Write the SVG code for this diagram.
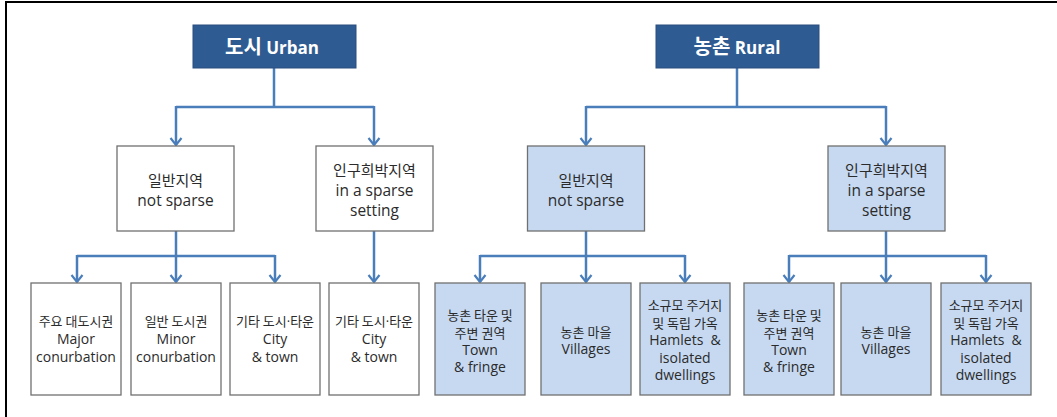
<svg xmlns="http://www.w3.org/2000/svg" width="1057" height="417" viewBox="0 0 1057 417">
<style>
.frame{stroke:#000;stroke-width:2;fill:none}
.title{fill:#2E5B92;stroke:#2a4f7e;stroke-width:1}
.tt{font-family:"Open Sans","Noto Sans CJK KR",sans-serif;font-weight:bold;fill:#fff;text-anchor:middle}
.box{fill:#fff;stroke:#707070;stroke-width:1.3}
.rbox{fill:#C6D9F1;stroke:#707070;stroke-width:1.3}
.t2{font-family:"Open Sans","Noto Sans CJK KR",sans-serif;font-size:15.5px;fill:#2b2b2b;text-anchor:middle}
.t3{font-family:"Open Sans","Noto Sans CJK KR",sans-serif;font-size:14px;fill:#2b2b2b;text-anchor:middle}
.k{font-family:"Noto Sans CJK KR",sans-serif;font-size:13px}
.k2{font-family:"Noto Sans CJK KR",sans-serif;font-size:15px}
.d{font-family:"Open Sans",sans-serif}
.c{stroke:#4A7EBB;stroke-width:2.5;fill:none}
.a{stroke:#4A7EBB;stroke-width:2.5;fill:none;marker-end:url(#arr)}
</style>
<defs>
<marker id="arr" markerUnits="userSpaceOnUse" viewBox="0 0 14 14" refX="12" refY="7" markerWidth="14" markerHeight="14" orient="auto">
<path d="M5,1.5 L12,7 L5,12.5" fill="none" stroke="#4A7EBB" stroke-width="2.2"/>
</marker>
</defs>
<rect width="1057" height="417" fill="#fff"/>
<path class="frame" d="M6,417 L6,2 L1057,2"/>

<g id="connectors">
<path class="c" d="M274,68 V107 M176,107 H374"/>
<path class="a" d="M176,106 V145"/>
<path class="a" d="M374,106 V145"/>
<path class="c" d="M737,68 V107 M586,107 H886"/>
<path class="a" d="M586,106 V145"/>
<path class="a" d="M886,106 V145"/>
<path class="c" d="M176,231 V256 M77,256 H275"/>
<path class="a" d="M77,255 V282"/>
<path class="a" d="M176,255 V282"/>
<path class="a" d="M275,255 V282"/>
<path class="a" d="M374,231 V282"/>
<path class="c" d="M586,231 V256 M480,256 H685"/>
<path class="a" d="M480,255 V282"/>
<path class="a" d="M586,255 V282"/>
<path class="a" d="M685,255 V282"/>
<path class="c" d="M886,231 V256 M789,256 H986"/>
<path class="a" d="M789,255 V282"/>
<path class="a" d="M886,255 V282"/>
<path class="a" d="M986,255 V282"/>
</g>

<g id="urban">
<rect class="title" x="193" y="25" width="163" height="43"/>
<text class="tt" x="272" y="54"><tspan style="font-family:'Noto Sans CJK KR',sans-serif;font-size:20px">도시</tspan><tspan font-size="17"> Urban</tspan></text>
</g>
<g id="rural">
<rect class="title" x="656" y="25" width="163" height="43"/>
<text class="tt" x="737" y="54"><tspan style="font-family:'Noto Sans CJK KR',sans-serif;font-size:20px">농촌</tspan><tspan font-size="17"> Rural</tspan></text>
</g>

<g id="urban-normal">
<rect class="box" x="117" y="146" width="117" height="85"/>
<text class="t2"><tspan x="175.5" y="186" class="k2">일반지역</tspan><tspan x="175.5" y="206">not sparse</tspan></text>
</g>
<g id="urban-sparse">
<rect class="box" x="316" y="146" width="117" height="85"/>
<text class="t2"><tspan x="374.5" y="176" class="k2">인구희박지역</tspan><tspan x="374.5" y="196">in a sparse</tspan><tspan x="374.5" y="216">setting</tspan></text>
</g>
<g id="rural-normal">
<rect class="rbox" x="527.5" y="146" width="117" height="85"/>
<text class="t2"><tspan x="586" y="186" class="k2">일반지역</tspan><tspan x="586" y="206">not sparse</tspan></text>
</g>
<g id="rural-sparse">
<rect class="rbox" x="828" y="146" width="117" height="85"/>
<text class="t2"><tspan x="886.5" y="176" class="k2">인구희박지역</tspan><tspan x="886.5" y="196">in a sparse</tspan><tspan x="886.5" y="216">setting</tspan></text>
</g>

<g id="u-major">
<rect class="box" x="31" y="283" width="90" height="112"/>
<text class="t3"><tspan x="76" y="326" class="k">주요 대도시권</tspan><tspan x="76" y="344">Major</tspan><tspan x="76" y="362">conurbation</tspan></text>
</g>
<g id="u-minor">
<rect class="box" x="131" y="283" width="90" height="112"/>
<text class="t3"><tspan x="176" y="326" class="k">일반 도시권</tspan><tspan x="176" y="344">Minor</tspan><tspan x="176" y="362">conurbation</tspan></text>
</g>
<g id="u-city1">
<rect class="box" x="230" y="283" width="90" height="112"/>
<text class="t3"><tspan x="275" y="326" class="k">기타 도시<tspan class="d">·</tspan>타운</tspan><tspan x="275" y="344">City</tspan><tspan x="275" y="362">&amp; town</tspan></text>
</g>
<g id="u-city2">
<rect class="box" x="329" y="283" width="90" height="112"/>
<text class="t3"><tspan x="374" y="326" class="k">기타 도시<tspan class="d">·</tspan>타운</tspan><tspan x="374" y="344">City</tspan><tspan x="374" y="362">&amp; town</tspan></text>
</g>

<g id="r-town1">
<rect class="rbox" x="435" y="283" width="90" height="112"/>
<text class="t3"><tspan x="480" y="320" class="k">농촌 타운 및</tspan><tspan x="480" y="338" class="k">주변 권역</tspan><tspan x="480" y="355">Town</tspan><tspan x="480" y="372">&amp; fringe</tspan></text>
</g>
<g id="r-village1">
<rect class="rbox" x="541" y="283" width="90" height="112"/>
<text class="t3"><tspan x="586" y="337" class="k">농촌 마을</tspan><tspan x="586" y="354">Villages</tspan></text>
</g>
<g id="r-hamlet1">
<rect class="rbox" x="640" y="283" width="90" height="112"/>
<text class="t3"><tspan x="685" y="310" class="k">소규모 주거지</tspan><tspan x="685" y="328" class="k">및 독립 가옥</tspan><tspan x="685" y="345">Hamlets&#160; &amp;</tspan><tspan x="685" y="363">isolated</tspan><tspan x="685" y="380">dwellings</tspan></text>
</g>
<g id="r-town2">
<rect class="rbox" x="744" y="283" width="90" height="112"/>
<text class="t3"><tspan x="789" y="320" class="k">농촌 타운 및</tspan><tspan x="789" y="338" class="k">주변 권역</tspan><tspan x="789" y="355">Town</tspan><tspan x="789" y="372">&amp; fringe</tspan></text>
</g>
<g id="r-village2">
<rect class="rbox" x="841" y="283" width="90" height="112"/>
<text class="t3"><tspan x="886" y="337" class="k">농촌 마을</tspan><tspan x="886" y="354">Villages</tspan></text>
</g>
<g id="r-hamlet2">
<rect class="rbox" x="941" y="283" width="90" height="112"/>
<text class="t3"><tspan x="986" y="310" class="k">소규모 주거지</tspan><tspan x="986" y="328" class="k">및 독립 가옥</tspan><tspan x="986" y="345">Hamlets&#160; &amp;</tspan><tspan x="986" y="363">isolated</tspan><tspan x="986" y="380">dwellings</tspan></text>
</g>
</svg>
